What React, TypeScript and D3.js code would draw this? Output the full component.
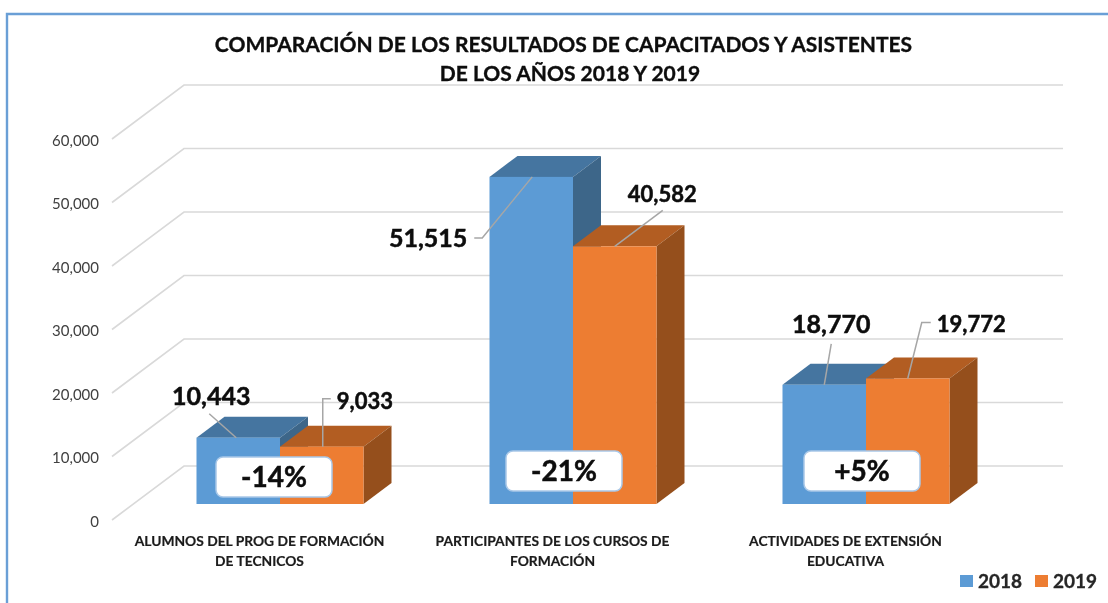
import React, { useEffect, useRef } from 'react';
import * as d3 from 'd3';

const categories = ['formacion', 'cursos', 'extension'];
const categoryLabels = [
  ['ALUMNOS DEL PROG DE FORMACIÓN', 'DE TECNICOS'],
  ['PARTICIPANTES DE LOS CURSOS DE', 'FORMACIÓN'],
  ['ACTIVIDADES DE EXTENSIÓN', 'EDUCATIVA'],
];
const years = ['2018', '2019'];
const values2018 = [10443, 51515, 18770];
const values2019 = [9033, 40582, 19772];
const changes = ['-14%', '-21%', '+5%'];
const yTicks = [0, 10000, 20000, 30000, 40000, 50000, 60000];
const titleLines = [
  'COMPARACIÓN DE LOS RESULTADOS DE CAPACITADOS Y ASISTENTES',
  'DE LOS AÑOS 2018 Y 2019',
];

const WIDTH = 1108;
const HEIGHT = 603;
const FONT = 'Lato, Carlito, sans-serif';

// leader line offsets from the middle of each bar top, and label placement
const leaders2018 = [
  { pts: [[-2, 0], [-29, -24]], lx: -27, ly: -33, anchor: 'middle', size: 25 },
  { pts: [[1, 0], [-49, 61], [-57, 61]], lx: -64, ly: 70, anchor: 'end', size: 25 },
  { pts: [[0, 0], [7, -41]], lx: 7, ly: -52, anchor: 'middle', size: 25 },
];
const leaders2019 = [
  { pts: [[1, 0], [1, -48], [9, -48]], lx: 15, ly: -38, anchor: 'start', size: 22 },
  { pts: [[0, 0], [48, -36]], lx: 47.5, ly: -44, anchor: 'middle', size: 22 },
  { pts: [[0, 0], [14, -56], [23, -56]], lx: 29, ly: -46, anchor: 'start', size: 22 },
];
const changeBoxes = [
  { dx: -64, y: 457 },
  { dx: -67, y: 451 },
  { dx: -62, y: 451 },
];
const titleCenters = [563.5, 570];

const colors = {
  2018: { front: '#5b9bd5', top: '#4575a0', side: '#3d6689' },
  2019: { front: '#ed7d31', top: '#b25d22', side: '#954f1c' },
};

const drawChart = (ref: SVGSVGElement) => {
  const root = d3.select(ref);
  root.selectAll('*').remove();

  // the reference is a slightly soft screenshot
  root.append('defs').append('filter')
    .attr('id', 'soft')
    .attr('x', 0).attr('y', 0).attr('width', 1).attr('height', 1)
    .append('feGaussianBlur')
    .attr('stdDeviation', 0.4);

  const svg = root.append('g').attr('filter', 'url(#soft)');

  svg.append('rect').attr('width', WIDTH).attr('height', HEIGHT).attr('fill', '#fff');

  // chart area border, only top and left are in the frame
  svg.append('path')
    .attr('d', `M7,${HEIGHT}V14H${WIDTH}`)
    .attr('fill', 'none')
    .attr('stroke', '#6a9fd6')
    .attr('stroke-width', 2.4);

  // value scale on the front edge of the floor
  const y = d3.scaleLinear().domain([0, 60000]).range([520, 139]);
  const wall = { dx: 72, dy: -54 };
  const bar = { dx: 28, dy: -21 };
  const inset = { dx: 21.5, dy: -16 };
  const frontLeft = 112;
  const plotRight = 991;

  const yAxis = d3.axisLeft(y)
    .tickValues(yTicks)
    .tickSize(0)
    .tickPadding(0)
    .tickFormat((d) => d3.format(',')(d as number));

  const axisG = svg.append('g')
    .attr('transform', `translate(99,1.5)`)
    .call(yAxis);
  axisG.select('.domain').remove();
  axisG.selectAll('text')
    .attr('font-family', FONT)
    .attr('font-size', 15)
    .attr('fill', '#404040');

  const grid = d3.line();
  svg.append('g')
    .selectAll('path')
    .data(yTicks)
    .enter().append('path')
    .attr('d', (d) => grid([
      [frontLeft, y(d)],
      [frontLeft + wall.dx, y(d) + wall.dy],
      [plotRight + wall.dx, y(d) + wall.dy],
    ]))
    .attr('fill', 'none')
    .attr('stroke', '#d9d9d9')
    .attr('stroke-width', 1.6);

  const x0 = d3.scaleBand()
    .domain(categories)
    .range([frontLeft + inset.dx, plotRight + inset.dx])
    .paddingInner(0.43)
    .paddingOuter(0.215);
  const x1 = d3.scaleBand().domain(years).range([0, x0.bandwidth()]);
  const yBar = (v: number) => y(v) + inset.dy;

  const series = [
    { year: '2018', values: values2018, leaders: leaders2018 },
    { year: '2019', values: values2019, leaders: leaders2019 },
  ];

  categories.forEach((cat, i) => {
    const g = svg.append('g');
    series.forEach((s) => {
      const c = colors[s.year];
      const left = (x0(cat) as number) + (x1(s.year) as number);
      const w = x1.bandwidth();
      const top = yBar(s.values[i]);
      const bottom = yBar(0);
      g.append('path')
        .attr('d', `M${left},${top}l${bar.dx},${bar.dy}h${w}l${-bar.dx},${-bar.dy}Z`)
        .attr('fill', c.top);
      g.append('path')
        .attr('d', `M${left + w},${top}l${bar.dx},${bar.dy}V${bottom + bar.dy}l${-bar.dx},${-bar.dy}Z`)
        .attr('fill', c.side);
      g.append('rect')
        .attr('x', left)
        .attr('y', top)
        .attr('width', w)
        .attr('height', bottom - top)
        .attr('fill', c.front);
    });
  });

  // data labels go above every bar so draw them after
  categories.forEach((cat, i) => {
    series.forEach((s) => {
      const mid = (x0(cat) as number) + (x1(s.year) as number) + x1.bandwidth() / 2;
      const top = yBar(s.values[i]);
      const l = s.leaders[i];
      svg.append('path')
        .attr('d', grid(l.pts.map(([a, b]) => [mid + a, top + b] as [number, number])))
        .attr('fill', 'none')
        .attr('stroke', '#a6a6a6')
        .attr('stroke-width', 1.5);
      svg.append('text')
        .attr('x', mid + l.lx)
        .attr('y', top + l.ly)
        .attr('text-anchor', l.anchor)
        .attr('font-family', FONT)
        .attr('font-weight', 700)
        .attr('font-size', l.size)
        .attr('fill', '#0d0d0d')
        .attr('stroke', '#0d0d0d')
        .attr('stroke-width', 0.5)
        .text(d3.format(',')(s.values[i]));
    });
  });

  // percent change boxes
  categories.forEach((cat, i) => {
    const center = (x0(cat) as number) + x0.bandwidth() / 2;
    const b = changeBoxes[i];
    svg.append('rect')
      .attr('x', center + b.dx)
      .attr('y', b.y)
      .attr('width', 116)
      .attr('height', 40)
      .attr('rx', 7)
      .attr('fill', '#fff')
      .attr('stroke', '#a9c8e8')
      .attr('stroke-width', 1.5);
    svg.append('text')
      .attr('x', center + b.dx + 58)
      .attr('y', b.y + 30)
      .attr('text-anchor', 'middle')
      .attr('font-family', FONT)
      .attr('font-weight', 700)
      .attr('font-size', 28)
      .attr('fill', '#0d0d0d')
      .attr('stroke', '#0d0d0d')
      .attr('stroke-width', 0.5)
      .text(changes[i]);
  });

  // category labels
  categories.forEach((cat, i) => {
    const center = (x0(cat) as number) + x0.bandwidth() / 2 - 20.5;
    categoryLabels[i].forEach((line, k) => {
      svg.append('text')
        .attr('x', center)
        .attr('y', 546 + k * 20)
        .attr('text-anchor', 'middle')
        .attr('font-family', FONT)
        .attr('font-weight', 700)
        .attr('font-size', 13.8)
        .attr('fill', '#1a1a1a')
        .attr('stroke', '#1a1a1a')
        .attr('stroke-width', 0.2)
        .text(line);
    });
  });

  titleLines.forEach((line, k) => {
    svg.append('text')
      .attr('x', titleCenters[k])
      .attr('y', 52 + k * 29)
      .attr('text-anchor', 'middle')
      .attr('font-family', FONT)
      .attr('font-weight', 700)
      .attr('font-size', 21)
      .attr('fill', '#0d0d0d')
      .attr('stroke', '#0d0d0d')
      .attr('stroke-width', 0.35)
      .text(line);
  });

  // legend
  const legendX = d3.scaleBand().domain(years).range([960, 1110]);
  years.forEach((yr) => {
    const lx = legendX(yr) as number;
    svg.append('rect')
      .attr('x', lx)
      .attr('y', 575)
      .attr('width', 13)
      .attr('height', 12)
      .attr('fill', colors[yr].front);
    svg.append('text')
      .attr('x', lx + 18)
      .attr('y', 588)
      .attr('font-family', FONT)
      .attr('font-weight', 700)
      .attr('font-size', 19)
      .attr('fill', '#262626')
      .attr('stroke', '#262626')
      .attr('stroke-width', 0.3)
      .text(yr);
  });
};

const App = () => {
  const ref = useRef<SVGSVGElement>(null);
  useEffect(() => {
    if (ref.current) drawChart(ref.current);
  }, []);
  return (
    <svg
      ref={ref}
      width={WIDTH}
      height={HEIGHT}
      style={{ position: 'absolute', left: 0, top: 0, display: 'block' }}
    />
  );
};

export default App;
